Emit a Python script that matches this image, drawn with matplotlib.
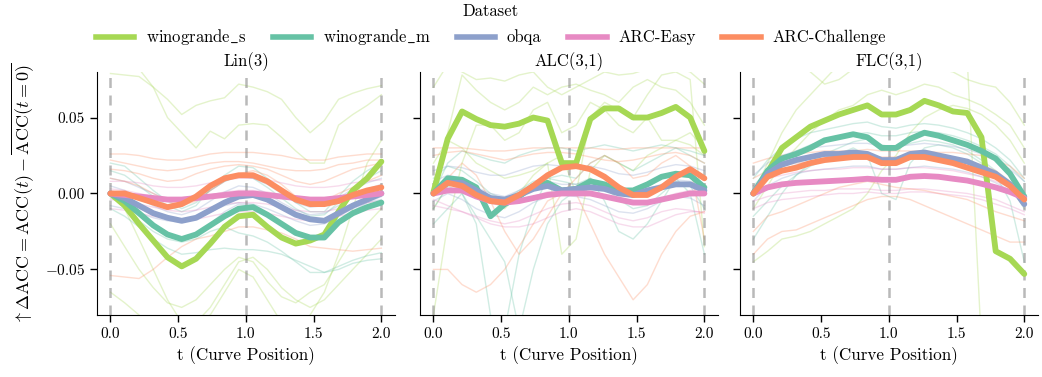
import matplotlib
matplotlib.use('Agg')
import matplotlib.pyplot as plt
from matplotlib.lines import Line2D

plt.rcParams['font.family'] = ['cmr10', 'DejaVu Serif']
plt.rcParams['mathtext.fontset'] = 'cm'
plt.rcParams['axes.formatter.use_mathtext'] = True

# curve positions
t = [0.0, 0.105, 0.211, 0.316, 0.421, 0.526, 0.632, 0.737, 0.842, 0.947,
     1.053, 1.158, 1.263, 1.368, 1.474, 1.579, 1.684, 1.789, 1.895, 2.0]

datasets = ['winogrande$\\_$s', 'winogrande$\\_$m', 'obqa', 'ARC-Easy', 'ARC-Challenge']
panel_titles = ['Lin(3)', 'ALC(3,1)', 'FLC(3,1)']

# ---- Lin(3): mean curves
lin_wino_s = [0, -0.008, -0.020, -0.031, -0.042, -0.048, -0.043, -0.033, -0.022, -0.015,
              -0.014, -0.022, -0.029, -0.033, -0.031, -0.027, -0.012, 0.002, 0.010, 0.021]
lin_wino_m = [0, -0.005, -0.013, -0.021, -0.027, -0.030, -0.027, -0.021, -0.015, -0.010,
              -0.009, -0.014, -0.020, -0.026, -0.029, -0.029, -0.019, -0.013, -0.009, -0.006]
lin_obqa = [0, -0.003, -0.008, -0.013, -0.016, -0.018, -0.016, -0.011, -0.006, -0.002,
            -0.001, -0.004, -0.009, -0.014, -0.017, -0.018, -0.013, -0.008, -0.004, 0.000]
lin_easy = [0, -0.001, -0.002, -0.003, -0.004, -0.004, -0.003, -0.002, -0.001, 0.000,
            0.000, -0.001, -0.002, -0.003, -0.004, -0.004, -0.003, -0.002, -0.001, 0.000]
lin_chal = [0, 0.000, -0.003, -0.006, -0.009, -0.007, -0.002, 0.005, 0.010, 0.012,
            0.012, 0.008, 0.002, -0.004, -0.007, -0.007, -0.005, -0.001, 0.002, 0.004]

# ---- Lin(3): individual runs
lin_wino_s_runs = [
    [0.079, 0.078, 0.077, 0.070, 0.062, 0.052, 0.058, 0.061, 0.063, 0.072, 0.070, 0.067, 0.062, 0.050, 0.040, 0.048, 0.062, 0.066, 0.069, 0.071],
    [0.085, 0.085, 0.082, 0.070, 0.050, 0.040, 0.030, 0.041, 0.036, 0.045, 0.046, 0.045, 0.037, 0.028, 0.020, 0.020, 0.045, 0.052, 0.058, 0.065],
    [-0.065, -0.072, -0.080, -0.090, -0.095, -0.090, -0.085, -0.075, -0.060, -0.045, -0.042, -0.050, -0.062, -0.070, -0.075, -0.070, -0.060, -0.050, -0.040, -0.030],
    [-0.020, -0.035, -0.050, -0.062, -0.072, -0.075, -0.070, -0.060, -0.050, -0.042, -0.045, -0.058, -0.068, -0.072, -0.065, -0.060, -0.045, -0.030, -0.020, -0.010],
    [0.000, -0.010, -0.030, -0.050, -0.070, -0.085, -0.085, -0.080, -0.065, -0.050, -0.055, -0.070, -0.085, -0.090, -0.080, -0.065, -0.040, -0.010, 0.020, 0.035],
]
lin_wino_m_runs = [
    [-0.010, -0.015, -0.022, -0.030, -0.036, -0.040, -0.039, -0.037, -0.036, -0.037, -0.037, -0.038, -0.040, -0.044, -0.048, -0.052, -0.050, -0.046, -0.044, -0.043],
    [0.000, -0.008, -0.018, -0.025, -0.030, -0.032, -0.030, -0.025, -0.022, -0.026, -0.028, -0.032, -0.038, -0.045, -0.052, -0.052, -0.048, -0.044, -0.041, -0.039],
    [0.015, 0.012, 0.005, -0.002, -0.008, -0.012, -0.008, 0.003, 0.012, 0.018, 0.017, 0.010, 0.002, -0.006, -0.012, -0.012, -0.002, 0.008, 0.015, 0.020],
    [0.020, 0.018, 0.010, 0.002, -0.005, -0.010, -0.006, 0.002, 0.008, 0.012, 0.010, 0.004, -0.003, -0.010, -0.015, -0.014, -0.006, 0.003, 0.010, 0.015],
]
lin_obqa_runs = [
    [0.010, 0.008, 0.004, 0.000, -0.004, -0.006, -0.004, 0.002, 0.008, 0.011, 0.010, 0.006, 0.000, -0.006, -0.009, -0.008, -0.003, 0.003, 0.007, 0.010],
    [-0.008, -0.010, -0.013, -0.016, -0.018, -0.019, -0.017, -0.012, -0.008, -0.006, -0.007, -0.010, -0.014, -0.018, -0.021, -0.020, -0.015, -0.010, -0.006, -0.004],
    [0.005, 0.002, -0.003, -0.008, -0.012, -0.014, -0.011, -0.005, 0.001, 0.005, 0.004, 0.000, -0.006, -0.011, -0.014, -0.013, -0.008, -0.002, 0.003, 0.006],
    [-0.003, -0.006, -0.012, -0.020, -0.026, -0.030, -0.027, -0.020, -0.012, -0.007, -0.008, -0.014, -0.020, -0.026, -0.030, -0.028, -0.020, -0.012, -0.006, -0.002],
]
lin_easy_runs = [
    [0.008, 0.008, 0.007, 0.005, 0.004, 0.004, 0.005, 0.007, 0.009, 0.010, 0.010, 0.009, 0.007, 0.005, 0.004, 0.004, 0.005, 0.007, 0.008, 0.009],
    [-0.004, -0.005, -0.007, -0.009, -0.011, -0.012, -0.011, -0.009, -0.007, -0.006, -0.006, -0.007, -0.009, -0.011, -0.012, -0.012, -0.010, -0.008, -0.006, -0.005],
    [0.003, 0.002, 0.000, -0.002, -0.003, -0.004, -0.003, -0.001, 0.001, 0.002, 0.002, 0.001, -0.001, -0.003, -0.004, -0.004, -0.002, 0.000, 0.002, 0.003],
    [-0.010, -0.011, -0.013, -0.015, -0.017, -0.018, -0.017, -0.015, -0.013, -0.012, -0.012, -0.013, -0.015, -0.017, -0.018, -0.017, -0.015, -0.013, -0.011, -0.010],
]
lin_chal_runs = [
    [0.026, 0.026, 0.025, 0.023, 0.022, 0.022, 0.024, 0.026, 0.027, 0.027, 0.027, 0.026, 0.025, 0.023, 0.022, 0.022, 0.024, 0.025, 0.026, 0.026],
    [0.022, 0.020, 0.018, 0.016, 0.015, 0.016, 0.018, 0.020, 0.021, 0.021, 0.020, 0.018, 0.016, 0.015, 0.015, 0.016, 0.019, 0.020, 0.022, 0.022],
    [-0.054, -0.055, -0.056, -0.050, -0.042, -0.035, -0.030, -0.028, -0.025, -0.022, -0.022, -0.024, -0.026, -0.030, -0.035, -0.036, -0.037, -0.038, -0.037, -0.036],
    [0.010, 0.008, 0.005, 0.000, -0.005, -0.008, -0.005, 0.002, 0.008, 0.013, 0.015, 0.012, 0.006, -0.002, -0.006, -0.005, 0.000, 0.004, 0.008, 0.012],
    [0.016, 0.015, 0.013, 0.010, 0.008, 0.009, 0.013, 0.016, 0.018, 0.019, 0.018, 0.016, 0.012, 0.008, 0.006, 0.008, 0.012, 0.016, 0.018, 0.020],
]

# ---- ALC(3,1): mean curves
alc_wino_s = [0.001, 0.036, 0.054, 0.049, 0.045, 0.044, 0.046, 0.050, 0.048, 0.020,
              0.020, 0.049, 0.056, 0.056, 0.050, 0.050, 0.053, 0.057, 0.050, 0.028]
alc_wino_m = [0, 0.010, 0.009, 0.004, -0.015, -0.007, -0.002, 0.005, 0.007, 0.002,
              0.003, 0.008, 0.006, 0.002, 0.002, 0.006, 0.011, 0.013, 0.012, 0.004]
alc_obqa = [0, 0.007, 0.007, 0.002, -0.003, -0.004, -0.001, 0.003, 0.005, 0.002,
            0.003, 0.004, 0.003, 0.000, -0.001, 0.002, 0.004, 0.006, 0.006, 0.002]
alc_easy = [0, 0.002, 0.002, -0.002, -0.005, -0.006, -0.005, -0.003, -0.001, 0.000,
            0.000, 0.000, -0.002, -0.004, -0.006, -0.006, -0.004, -0.002, 0.000, 0.000]
alc_chal = [0, 0.007, 0.005, -0.001, -0.005, -0.006, -0.001, 0.005, 0.012, 0.017,
            0.018, 0.016, 0.011, 0.004, -0.001, -0.001, 0.004, 0.011, 0.016, 0.010]

# ---- ALC(3,1): individual runs
alc_wino_s_runs = [
    [0.070, 0.085, 0.080, 0.075, 0.076, 0.074, 0.078, 0.080, 0.070, 0.065, 0.070, 0.075, 0.080, 0.078, 0.079, 0.082, 0.085, 0.083, 0.080, 0.072],
    [0.000, 0.040, 0.078, 0.068, 0.060, 0.055, 0.060, 0.070, 0.065, 0.070, 0.072, 0.068, 0.065, 0.060, 0.070, 0.075, 0.070, 0.068, 0.060, 0.045],
    [-0.080, -0.020, 0.020, 0.045, 0.045, 0.035, 0.040, 0.055, 0.060, 0.040, 0.045, 0.060, 0.055, 0.045, 0.040, 0.050, 0.035, 0.035, 0.040, 0.030],
    [0.020, 0.035, 0.030, 0.020, 0.015, 0.010, 0.012, 0.015, 0.020, -0.040, -0.030, 0.015, 0.025, 0.020, 0.015, 0.025, 0.030, 0.035, 0.032, 0.025],
    [-0.010, 0.005, 0.010, 0.000, -0.005, -0.010, 0.000, 0.012, 0.020, 0.025, 0.000, 0.050, 0.060, 0.055, 0.050, 0.065, 0.078, 0.080, 0.075, -0.035],
]
alc_wino_m_runs = [
    [0.000, 0.020, 0.028, 0.025, 0.022, 0.020, 0.025, 0.028, 0.030, 0.030, 0.028, 0.030, 0.032, 0.030, 0.028, 0.030, 0.032, 0.030, 0.028, 0.025],
    [-0.020, -0.010, 0.000, -0.020, -0.080, -0.090, -0.040, -0.010, 0.010, 0.012, 0.010, 0.020, 0.025, 0.020, 0.015, 0.020, 0.025, 0.030, 0.025, 0.020],
    [-0.010, 0.005, 0.000, -0.015, -0.030, -0.045, -0.090, -0.050, -0.020, -0.005, 0.002, 0.010, -0.005, -0.025, -0.030, -0.020, -0.005, 0.010, 0.000, -0.040],
    [0.010, 0.018, 0.015, 0.008, 0.000, -0.004, 0.002, 0.008, 0.010, 0.008, 0.006, 0.010, 0.004, -0.004, -0.010, -0.008, 0.000, 0.008, 0.005, -0.010],
]
alc_obqa_runs = [
    [0.015, 0.018, 0.017, 0.014, 0.012, 0.012, 0.015, 0.018, 0.019, 0.018, 0.017, 0.018, 0.016, 0.013, 0.012, 0.014, 0.017, 0.019, 0.018, 0.015],
    [-0.005, 0.000, -0.004, -0.010, -0.014, -0.016, -0.012, -0.006, -0.002, -0.001, -0.002, -0.004, -0.008, -0.012, -0.013, -0.010, -0.005, -0.002, -0.003, -0.008],
    [0.008, 0.012, 0.010, 0.004, 0.000, -0.002, 0.002, 0.006, 0.008, 0.006, 0.006, 0.008, 0.006, 0.002, 0.000, 0.003, 0.006, 0.009, 0.008, 0.004],
]
alc_easy_runs = [
    [-0.008, -0.010, -0.012, -0.016, -0.020, -0.022, -0.022, -0.020, -0.016, -0.012, -0.010, -0.012, -0.016, -0.020, -0.022, -0.022, -0.018, -0.014, -0.012, -0.012],
    [0.004, 0.006, 0.004, 0.000, -0.004, -0.006, -0.005, -0.002, 0.001, 0.002, 0.002, 0.001, -0.002, -0.005, -0.007, -0.006, -0.003, 0.000, 0.002, 0.003],
    [-0.004, -0.008, -0.012, -0.015, -0.018, -0.020, -0.018, -0.014, -0.010, -0.007, -0.006, -0.008, -0.012, -0.016, -0.018, -0.016, -0.012, -0.010, -0.011, -0.013],
]
alc_chal_runs = [
    [0.030, 0.030, 0.030, 0.029, 0.028, 0.028, 0.029, 0.030, 0.030, 0.030, 0.030, 0.030, 0.029, 0.029, 0.030, 0.030, 0.030, 0.030, 0.030, 0.030],
    [-0.050, -0.050, -0.060, -0.065, -0.060, -0.050, -0.035, -0.020, -0.005, 0.000, 0.000, -0.020, -0.040, -0.055, -0.070, -0.060, -0.040, -0.025, -0.015, -0.012],
    [0.000, 0.010, 0.020, 0.012, -0.005, -0.025, -0.040, -0.030, -0.015, 0.000, 0.010, 0.020, 0.025, 0.020, 0.010, 0.012, 0.020, 0.025, 0.018, -0.030],
    [0.025, 0.027, 0.028, 0.026, 0.024, 0.022, 0.024, 0.026, 0.027, 0.027, 0.026, 0.024, 0.022, 0.021, 0.022, 0.024, 0.026, 0.027, 0.025, 0.020],
]

# ---- FLC(3,1): mean curves
flc_wino_s = [0, 0.014, 0.030, 0.037, 0.044, 0.048, 0.052, 0.055, 0.058, 0.052,
              0.052, 0.055, 0.061, 0.058, 0.054, 0.053, 0.037, -0.038, -0.043, -0.053]
flc_wino_m = [0, 0.015, 0.023, 0.026, 0.030, 0.035, 0.037, 0.039, 0.037, 0.030,
              0.030, 0.036, 0.040, 0.038, 0.035, 0.032, 0.028, 0.023, 0.013, -0.002]
flc_obqa = [0, 0.013, 0.019, 0.022, 0.024, 0.026, 0.026, 0.027, 0.026, 0.022,
            0.022, 0.026, 0.027, 0.025, 0.023, 0.021, 0.017, 0.013, 0.006, -0.007]
flc_easy = [0, 0.004, 0.006, 0.007, 0.0075, 0.008, 0.0085, 0.009, 0.0097, 0.009,
            0.009, 0.011, 0.0115, 0.011, 0.0097, 0.0085, 0.0064, 0.004, 0.001, -0.003]
flc_chal = [0, 0.011, 0.015, 0.017, 0.020, 0.022, 0.023, 0.024, 0.024, 0.020,
            0.020, 0.024, 0.024, 0.022, 0.020, 0.017, 0.014, 0.011, 0.005, -0.004]

# ---- FLC(3,1): individual runs
flc_wino_s_runs = [
    [0.085, 0.090, 0.090, 0.088, 0.080, 0.072, 0.075, 0.082, 0.085, 0.083, 0.082, 0.085, 0.085, 0.082, 0.080, 0.075, 0.072, 0.070, 0.060, 0.045],
    [0.000, 0.020, 0.040, 0.055, 0.065, 0.075, 0.085, 0.090, 0.090, 0.088, 0.090, 0.090, 0.092, 0.090, 0.090, 0.088, -0.100, -0.120, -0.120, -0.120],
    [-0.010, 0.005, 0.020, 0.030, 0.040, 0.048, 0.055, 0.058, 0.065, 0.068, 0.065, 0.068, 0.072, 0.070, 0.065, 0.062, 0.058, 0.052, 0.045, 0.030],
    [-0.045, -0.038, -0.030, -0.028, -0.025, -0.020, -0.015, -0.010, 0.000, 0.015, 0.025, 0.040, 0.050, 0.055, 0.058, 0.056, 0.052, 0.045, 0.035, 0.020],
]
flc_wino_m_runs = [
    [-0.030, -0.015, 0.000, 0.012, 0.020, 0.026, 0.030, 0.034, 0.036, 0.032, 0.030, 0.033, 0.035, 0.034, 0.032, 0.028, 0.022, 0.015, 0.005, -0.010],
    [0.010, 0.022, 0.030, 0.036, 0.040, 0.042, 0.044, 0.046, 0.047, 0.044, 0.043, 0.045, 0.046, 0.045, 0.043, 0.040, 0.036, 0.030, 0.022, 0.010],
    [-0.015, -0.005, 0.005, 0.012, 0.018, 0.022, 0.026, 0.030, 0.025, 0.000, -0.004, 0.020, 0.030, 0.032, 0.030, 0.026, 0.020, 0.012, -0.005, -0.045],
    [0.005, 0.015, 0.022, 0.028, 0.032, 0.035, 0.037, 0.039, 0.040, 0.038, 0.038, 0.040, 0.041, 0.040, 0.038, 0.035, 0.031, 0.026, 0.018, 0.008],
]
flc_obqa_runs = [
    [0.012, 0.020, 0.025, 0.028, 0.030, 0.031, 0.032, 0.033, 0.033, 0.031, 0.031, 0.032, 0.033, 0.032, 0.031, 0.029, 0.026, 0.022, 0.016, 0.008],
    [-0.005, 0.005, 0.010, 0.013, 0.015, 0.016, 0.017, 0.018, 0.018, 0.016, 0.016, 0.017, 0.018, 0.017, 0.016, 0.014, 0.011, 0.007, 0.002, -0.006],
    [0.000, 0.010, 0.015, 0.019, 0.021, 0.022, 0.023, 0.024, 0.024, 0.022, 0.022, 0.023, 0.024, 0.023, 0.022, 0.020, 0.017, 0.013, 0.007, -0.002],
]
flc_easy_runs = [
    [-0.005, -0.002, 0.000, 0.001, 0.002, 0.002, 0.003, 0.003, 0.003, 0.002, 0.002, 0.003, 0.003, 0.002, 0.001, 0.000, -0.002, -0.004, -0.008, -0.012],
    [0.005, 0.010, 0.012, 0.014, 0.015, 0.016, 0.016, 0.017, 0.017, 0.016, 0.016, 0.017, 0.017, 0.016, 0.015, 0.013, 0.011, 0.008, 0.004, -0.002],
    [-0.010, -0.006, -0.004, -0.003, -0.002, -0.001, 0.000, 0.000, 0.001, 0.000, 0.000, 0.001, 0.001, 0.000, -0.001, -0.002, -0.004, -0.007, -0.010, -0.014],
]
flc_chal_runs = [
    [0.020, 0.023, 0.025, 0.026, 0.027, 0.028, 0.028, 0.028, 0.029, 0.028, 0.028, 0.028, 0.028, 0.027, 0.027, 0.026, 0.025, 0.022, 0.018, 0.010],
    [-0.040, -0.030, -0.025, -0.024, -0.020, -0.016, -0.012, -0.008, -0.004, -0.002, -0.002, -0.004, -0.008, -0.012, -0.016, -0.020, -0.024, -0.028, -0.032, -0.032],
    [-0.025, -0.015, -0.012, -0.008, -0.004, 0.000, 0.004, 0.006, 0.008, 0.006, 0.004, 0.003, 0.002, 0.000, -0.002, -0.004, -0.008, -0.012, -0.015, -0.018],
    [0.010, 0.015, 0.018, 0.020, 0.021, 0.022, 0.023, 0.024, 0.025, 0.024, 0.024, 0.024, 0.024, 0.023, 0.022, 0.021, 0.019, 0.015, 0.008, 0.000],
]

colors = ['#a6d854', '#66c2a5', '#8da0cb', '#e78ac3', '#fc8d62']

panels = [
    ([lin_wino_s, lin_wino_m, lin_obqa, lin_easy, lin_chal],
     [lin_wino_s_runs, lin_wino_m_runs, lin_obqa_runs, lin_easy_runs, lin_chal_runs]),
    ([alc_wino_s, alc_wino_m, alc_obqa, alc_easy, alc_chal],
     [alc_wino_s_runs, alc_wino_m_runs, alc_obqa_runs, alc_easy_runs, alc_chal_runs]),
    ([flc_wino_s, flc_wino_m, flc_obqa, flc_easy, flc_chal],
     [flc_wino_s_runs, flc_wino_m_runs, flc_obqa_runs, flc_easy_runs, flc_chal_runs]),
]

fig = plt.figure(figsize=(10.42, 3.77), dpi=100)
lefts = [0.093, 0.403, 0.710]
axes = []
for i, left in enumerate(lefts):
    ax = fig.add_axes([left, 0.1645, 0.286, 0.6446])
    axes.append(ax)
    means, runs = panels[i]
    for c, rr in zip(colors, runs):
        for r in rr:
            ax.plot(t, r, color=c, lw=1.0, alpha=0.3, zorder=1)
    for c, m in zip(colors, means):
        ax.plot(t, m, color=c, lw=4.2, zorder=3, solid_capstyle='round')
    for xv in [0, 1, 2]:
        ax.axvline(xv, color='gray', lw=1.8, ls=(0, (4, 3)), alpha=0.55, zorder=2)
    ax.set_xlim(-0.1, 2.1)
    ax.set_ylim(-0.08, 0.08)
    ax.set_xticks([0.0, 0.5, 1.0, 1.5, 2.0])
    ax.set_xticklabels(['0.0', '0.5', '1.0', '1.5', '2.0'])
    ax.set_yticks([-0.05, 0.0, 0.05])
    if i == 0:
        ax.set_yticklabels([r'$-0.05$', '0.00', '0.05'])
        ax.set_ylabel(r'$\uparrow \Delta\mathrm{ACC} = \mathrm{ACC}(t) - \overline{\mathrm{ACC}(t=0)}$',
                      fontsize=13, labelpad=6)
    else:
        ax.set_yticklabels([])
    ax.set_title(panel_titles[i], fontsize=12, pad=4)
    ax.set_xlabel('t (Curve Position)', fontsize=12.3)
    ax.tick_params(labelsize=11, length=5, width=1)
    ax.spines['top'].set_visible(False)
    ax.spines['right'].set_visible(False)

handles = [Line2D([0], [0], color=c, lw=4) for c in colors]
fig.legend(handles, datasets, loc='upper center', bbox_to_anchor=(0.471, 1.03), ncol=5,
           title='Dataset', frameon=False, fontsize=12, title_fontsize=12,
           handlelength=2.3, handletextpad=0.7, columnspacing=1.6)

plt.savefig('out.png', dpi=100)
